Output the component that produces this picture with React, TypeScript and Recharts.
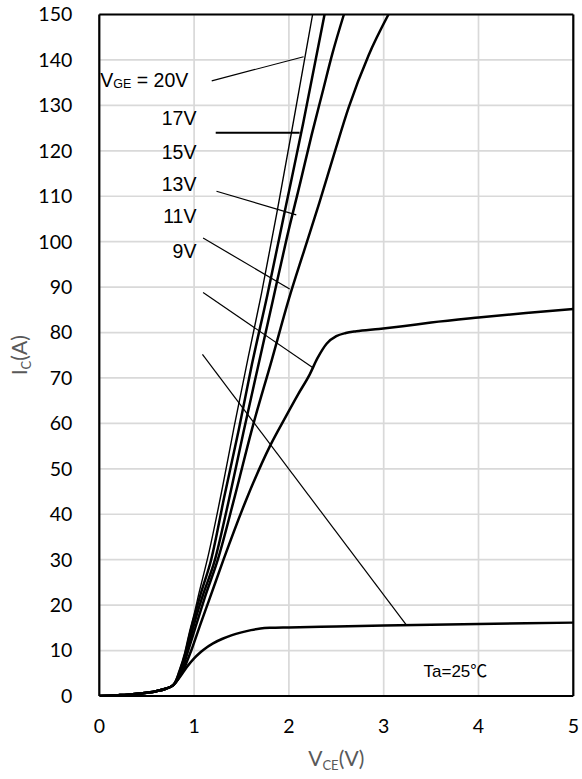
import React from "react";
import {
  LineChart,
  Line,
  XAxis,
  YAxis,
  CartesianGrid,
  ReferenceLine,
  ReferenceDot,
} from "recharts";

type Pt = [number, number];

// axes
const xTicks = [0, 1, 2, 3, 4, 5];
const yTicks = [0, 10, 20, 30, 40, 50, 60, 70, 80, 90, 100, 110, 120, 130, 140, 150];

// common low-voltage part, all curves share it up to the knee at ~0.8V
const onset: Pt[] = [
  [0, 0], [0.1, 0.08], [0.2, 0.18], [0.3, 0.3], [0.4, 0.48],
  [0.5, 0.72], [0.6, 1.05], [0.7, 1.6], [0.78, 2.4],
];

// Ic vs Vce for each gate voltage
const vge20: Pt[] = [
  ...onset, [0.84, 5.5], [0.9, 9.5], [0.95, 14], [1.0, 18], [1.05, 22.5],
  [1.15, 31], [1.3, 46], [1.42, 59], [1.57, 74.5], [1.71, 88.5],
  [1.87, 106], [2.07, 129], [2.25, 150],
];
const vge17: Pt[] = [
  ...onset, [0.85, 5.5], [0.91, 9.5], [0.96, 14], [1.01, 18], [1.07, 22.5],
  [1.18, 30], [1.32, 44], [1.47, 58.5], [1.61, 73], [1.77, 88],
  [1.97, 108], [2.15, 126], [2.376, 150],
];
const vge15: Pt[] = [
  ...onset, [0.86, 5.5], [0.92, 9.5], [0.97, 13.5], [1.03, 18], [1.09, 22],
  [1.22, 30], [1.36, 42.5], [1.52, 58], [1.68, 73], [1.83, 87],
  [1.98, 101], [2.12, 113], [2.24, 123.5], [2.35, 132.5], [2.46, 141.5], [2.58, 150],
];
const vge13: Pt[] = [
  ...onset, [0.87, 5.5], [0.93, 9.5], [0.99, 13.5], [1.05, 17.5], [1.11, 21.5],
  [1.25, 30], [1.43, 44], [1.61, 58.7], [1.82, 74], [2.0, 87.4],
  [2.16, 98], [2.32, 108.5], [2.48, 119.5], [2.63, 129.5], [2.84, 141], [3.05, 150],
];
const vge11: Pt[] = [
  ...onset, [0.88, 5.5], [0.97, 10], [1.07, 16], [1.16, 21.2], [1.31, 30],
  [1.55, 43.2], [1.8, 55], [1.97, 61.6], [2.1, 66.5], [2.22, 70.8],
  [2.3, 74.3], [2.4, 77.6], [2.5, 79.2], [2.6, 79.9], [2.71, 80.3],
  [2.95, 80.8], [3.2, 81.4], [3.5, 82.2], [4.0, 83.3], [4.5, 84.3], [5, 85.2],
];
const vge9: Pt[] = [
  ...onset, [0.85, 4.2], [0.92, 6.3], [1.0, 8.3], [1.05, 9.3], [1.1, 10.2],
  [1.2, 11.6], [1.3, 12.6], [1.4, 13.4], [1.5, 14.0], [1.6, 14.5],
  [1.7, 14.85], [1.8, 15.0], [2.0, 15.1], [2.5, 15.3], [3.0, 15.5],
  [3.5, 15.7], [4.0, 15.85], [4.5, 16.0], [5, 16.15],
];

const curves = [
  { name: "20V", pts: vge20 },
  { name: "17V", pts: vge17 },
  { name: "15V", pts: vge15 },
  { name: "13V", pts: vge13 },
  { name: "11V", pts: vge11 },
  { name: "9V", pts: vge9 },
];

// leader lines from the labels to the curves, in V / A
const leaders: { from: Pt; to: Pt; w: number }[] = [
  { from: [1.186, 135.4], to: [2.155, 140.7], w: 1.2 },
  { from: [1.228, 124], to: [2.113, 124], w: 2 },
  { from: [1.236, 111.1], to: [2.078, 105.9], w: 1.2 },
  { from: [1.095, 100.8], to: [2.008, 89.6], w: 1.2 },
  { from: [1.095, 88.8], to: [2.25, 72.3], w: 1.2 },
  { from: [1.088, 75.2], to: [3.24, 15.6], w: 1.2 },
];

const gateLabels: { text: string; at: Pt }[] = [
  { text: "17V", at: [1.025, 125.6] },
  { text: "15V", at: [1.025, 118.2] },
  { text: "13V", at: [1.025, 111.25] },
  { text: "11V", at: [1.025, 104.1] },
  { text: "9V", at: [1.025, 96.4] },
];

const ARIAL = "'Liberation Sans', Arial, 'Noto Sans CJK JP', sans-serif";
const CALIBRI = "Lato, 'Open Sans', sans-serif";
const TITLE = "#595959";

function XTitle(props: any) {
  const vb = props.viewBox;
  const cx = vb.x + vb.width / 2;
  return (
    <text x={cx} y={vb.y + 70} textAnchor="middle" fill={TITLE} fontFamily={CALIBRI} fontSize={21}>
      V
      <tspan fontSize={13} dy={4}>CE</tspan>
      <tspan dy={-4}>(V)</tspan>
    </text>
  );
}

function YTitle(props: any) {
  const vb = props.viewBox;
  const cy = vb.y + vb.height / 2;
  const x = vb.x + 27;
  return (
    <text
      x={x}
      y={cy}
      transform={`rotate(-90 ${x} ${cy})`}
      textAnchor="middle"
      fill={TITLE}
      fontFamily={CALIBRI}
      fontSize={21}
    >
      I
      <tspan fontSize={13} dy={4}>C</tspan>
      <tspan dy={-4}>(A)</tspan>
    </text>
  );
}

export default function App() {
  return (
    <div style={{ position: "absolute", left: 0, top: 0, width: 582, height: 779, background: "#fff" }}>
      <LineChart width={582} height={779} margin={{ top: 14.5, right: 8.7, bottom: 0, left: 0 }}>
        <CartesianGrid stroke="#d9d9d9" strokeWidth={1.7} />
        <XAxis
          type="number"
          dataKey="x"
          domain={[0, 5]}
          ticks={xTicks}
          interval={0}
          height={83}
          tickLine={false}
          tickSize={6}
          tickMargin={17}
          axisLine={{ stroke: "#000", strokeWidth: 2.2 }}
          tick={{ fill: "#000", fontSize: 19.5, fontFamily: CALIBRI }}
          allowDataOverflow
          label={{ content: XTitle }}
        />
        <YAxis
          type="number"
          domain={[0, 150]}
          ticks={yTicks}
          interval={0}
          width={99.3}
          tickLine={false}
          tickSize={6}
          tickMargin={21}
          axisLine={{ stroke: "#000", strokeWidth: 2.2 }}
          tick={{ fill: "#000", fontSize: 19.5, fontFamily: CALIBRI }}
          allowDataOverflow
          label={{ content: YTitle }}
        />
        {/* top and right frame */}
        <ReferenceLine y={150} stroke="#000" strokeWidth={2.2} />
        <ReferenceLine x={5} stroke="#000" strokeWidth={2.2} />

        {curves.map((c) => (
          <Line
            key={c.name}
            name={c.name}
            data={c.pts.map(([x, y]) => ({ x, y }))}
            dataKey="y"
            type="monotone"
            stroke="#000"
            strokeWidth={c.name === "20V" ? 1.4 : 2.5}
            dot={false}
            activeDot={false}
            isAnimationActive={false}
          />
        ))}

        {leaders.map((l, i) => (
          <ReferenceLine
            key={`leader-${i}`}
            segment={[
              { x: l.from[0], y: l.from[1] },
              { x: l.to[0], y: l.to[1] },
            ]}
            stroke="#000"
            strokeWidth={l.w}
          />
        ))}

        <ReferenceDot
          x={0.01}
          y={134.06}
          r={0}
          shape={(p: any) => (
            <text x={p.cx} y={p.cy} textAnchor="start" fontFamily={ARIAL} fontSize={19.5} fill="#000">
              V
              <tspan fontSize={12.5} dy={1}>GE</tspan>
              <tspan dy={-1}> = 20V</tspan>
            </text>
          )}
        />
        {gateLabels.map((g) => (
          <ReferenceDot
            key={g.text}
            x={g.at[0]}
            y={g.at[1]}
            r={0}
            shape={(p: any) => (
              <text x={p.cx} y={p.cy} textAnchor="end" fontFamily={ARIAL} fontSize={19.5} fill="#000">
                {g.text}
              </text>
            )}
          />
        ))}
        <ReferenceDot
          x={3.42}
          y={4.2}
          r={0}
          shape={(p: any) => (
            <text x={p.cx} y={p.cy} textAnchor="start" fontFamily={ARIAL} fontSize={17} fill="#000">
              Ta=25℃
            </text>
          )}
        />
      </LineChart>
    </div>
  );
}
